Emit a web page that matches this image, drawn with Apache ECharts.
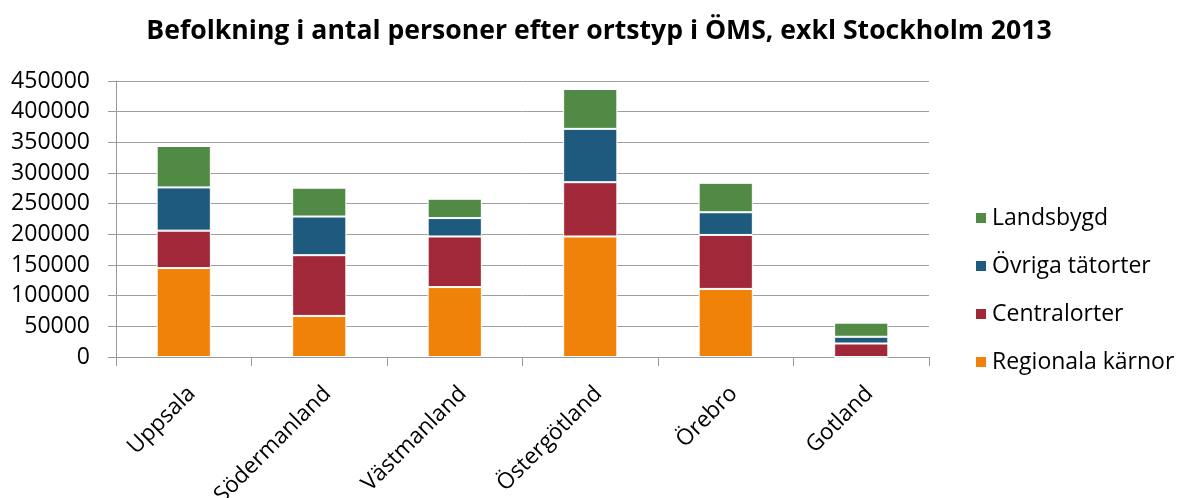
<!DOCTYPE html>
<html><head><meta charset="utf-8">
<script src="https://cdn.jsdelivr.net/npm/echarts@6/dist/echarts.min.js"></script>
<style>html,body{margin:0;padding:0;background:#fff}#c{width:1180px;height:498px}</style>
</head><body><div id="c"></div>
<script>
const categories = ['Uppsala','Södermanland','Västmanland','Östergötland','Örebro','Gotland'];
const regionala = [145000, 67000, 114000, 196500, 111000, 0];
const centralorter = [61000, 99000, 82500, 88500, 88000, 22000];
const ovriga = [70500, 63000, 30000, 87000, 37000, 11000];
const landsbygd = [67500, 47000, 31500, 65000, 48000, 23000];
const seriesNames = ['Regionala kärnor','Centralorter','Övriga tätorter','Landsbygd'];
const legendOrder = ['Landsbygd','Övriga tätorter','Centralorter','Regionala kärnor'];
const colors = ['#f0820a','#a02839','#1e5a7d','#508a44'];
const dataSets = [regionala, centralorter, ovriga, landsbygd];
const FONT = '"Open Sans", sans-serif';

const chart = echarts.init(document.getElementById('c'));
chart.setOption({
  animation: false,
  title: {
    text: 'Befolkning i antal personer efter ortstyp i ÖMS, exkl Stockholm 2013',
    left: 594, top: 13, textAlign: 'center',
    textStyle: {fontFamily: FONT, fontWeight: 'bold', fontSize: 26.6, color: '#000'}
  },
  legend: {
    orient: 'vertical', left: 969, top: 201,
    data: legendOrder, itemWidth: 12, itemHeight: 12, itemGap: 24,
    icon: 'rect',
    textStyle: {fontFamily: FONT, fontSize: 23, lineHeight: 24, color: '#000', padding: [0,0,0,0]}
  },
  grid: {left: 116, right: 251, top: 81, bottom: 141, outerBoundsMode: 'none', containLabel: false},
  xAxis: {
    type: 'category', data: categories,
    axisLine: {lineStyle: {color: '#999', width: 1}},
    axisTick: {show: true, length: 9, lineStyle: {color: '#999'}},
    axisLabel: {rotate: 45, fontFamily: FONT, fontSize: 22.5, color: '#000', margin: 25, interval: 0, verticalAlign: 'top'}
  },
  yAxis: {
    type: 'value', min: 0, max: 450000, interval: 50000,
    axisLine: {show: true, lineStyle: {color: '#999', width: 1}},
    axisTick: {show: true, length: 8, lineStyle: {color: '#999'}},
    axisLabel: {fontFamily: FONT, fontSize: 23, color: '#000', margin: 26, formatter: v => String(v)},
    splitLine: {lineStyle: {color: '#a0a0a0', width: 1}}
  },
  series: seriesNames.map((n, i) => ({
    name: n, type: 'bar', stack: 'a', data: dataSets[i], barWidth: '40%',
    itemStyle: {color: colors[i], borderColor: '#fff', borderWidth: 1}
  }))
});
</script></body></html>
